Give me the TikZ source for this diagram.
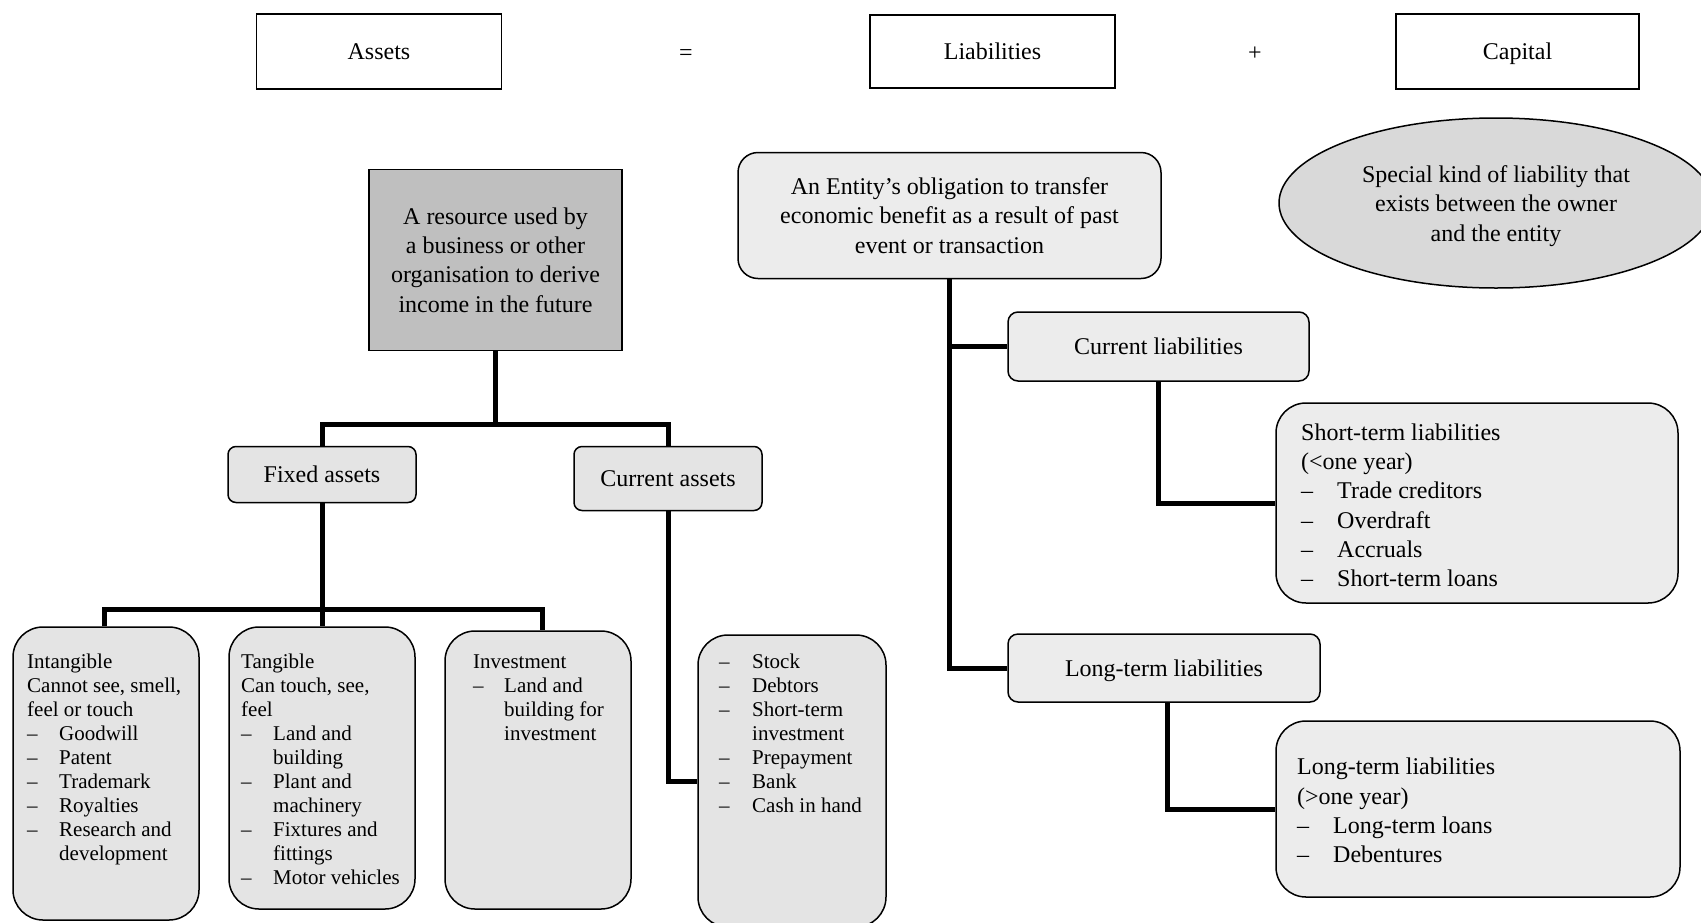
\documentclass[tikz,border=0pt]{standalone}
\usepackage{fontspec}
\setmainfont{Liberation Serif}
\usetikzlibrary{shapes.geometric}
\definecolor{resfill}{RGB}{191,191,191}
\definecolor{catfill}{RGB}{228,228,228}
\definecolor{lightfill}{RGB}{236,236,236}
\definecolor{ellfill}{RGB}{217,217,217}
\newcommand{\dashitem}[1]{\makebox[#1pt][l]{--}}
\newcommand{\contind}[1]{\hspace*{#1pt}}
\begin{document}
\begin{tikzpicture}[x=1pt,y=-1pt,
  bigfont/.style={font=\fontsize{24}{29.3}\selectfont},
  oneline/.style={text height=20pt, text depth=4pt},
  topbox/.style={draw, line width=1.2pt, bigfont, oneline, inner sep=0pt},
  resbox/.style={draw, line width=1.5pt, fill=resfill, bigfont, align=center, inner sep=0pt},
  catbox/.style={draw, line width=1.5pt, fill=catfill, rounded corners=8pt, bigfont, oneline, inner sep=0pt},
  defbox/.style={draw, line width=1.5pt, fill=lightfill, rounded corners=10pt, bigfont, inner sep=0pt, align=center},
  listbox/.style={draw, line width=1.5pt, fill=catfill, rounded corners=30pt, inner sep=0pt},
  bigbox/.style={draw, line width=1.5pt, fill=lightfill, rounded corners=30pt, inner sep=0pt},
  ellbox/.style={draw, line width=1.5pt, fill=ellfill, ellipse, inner sep=0pt},
  smalltext/.style={anchor=north west, inner sep=0pt, align=left, font=\fontsize{21}{24}\selectfont},
  bigtext/.style={anchor=north west, inner sep=0pt, align=left, font=\fontsize{24}{29.3}\selectfont},
  linkline/.style={line width=5pt}
]
\useasboundingbox (0,0) rectangle (1701,922);
\fill[white] (0,0) rectangle (1701,922);

% top equation
\node[topbox, minimum width=245, minimum height=74] (assets) at (379,51.5) {Assets};
\node[topbox, minimum width=245, minimum height=72] (liab) at (992.5,51.5) {Liabilities};
\node[topbox, minimum width=243, minimum height=74] (capital) at (1517.5,51.5) {Capital};
\node[bigfont, oneline, inner sep=0pt] (eq) at (686,52) {=};
\node[bigfont, oneline, inner sep=0pt] (plus) at (1255,52) {+};
\foreach \b in {assets,liab,capital}{
  \draw[line width=2.4pt] (\b.north west) -- (\b.north east);
  \draw[line width=2.4pt] (\b.south west) -- (\b.south east);
}

% assets side
\node[resbox, minimum width=253, minimum height=181] (res) at (495.5,260)
  {A resource used by\\a business or other\\organisation to derive\\income in the future};
\node[catbox, minimum width=188, minimum height=56] (fixed) at (322,474.5) {Fixed assets};
\node[catbox, minimum width=188, minimum height=64] (cur) at (668,478.5) {Current assets};

\node[listbox, minimum width=186, minimum height=293] (intang) at (106,773.5) {};
\node[listbox, minimum width=186, minimum height=282] (tang) at (322,768) {};
\node[listbox, minimum width=186, minimum height=278] (invest) at (538,770) {};
\node[listbox, minimum width=188, minimum height=292] (calist) at (792,781) {};

\node[smalltext] (intangtxt) at (27,651.2) {\strut Intangible\\Cannot see, smell,\\feel or touch\\
  \dashitem{32}Goodwill\\\dashitem{32}Patent\\\dashitem{32}Trademark\\\dashitem{32}Royalties\\
  \dashitem{32}Research and\\\contind{32}development};
\node[smalltext] (tangtxt) at (241,651.2) {\strut Tangible\\Can touch, see,\\feel\\
  \dashitem{32}Land and\\\contind{32}building\\\dashitem{32}Plant and\\\contind{32}machinery\\
  \dashitem{32}Fixtures and\\\contind{32}fittings\\\dashitem{32}Motor vehicles};
\node[smalltext] (investtxt) at (473,651.2) {\strut Investment\\
  \dashitem{31}Land and\\\contind{31}building for\\\contind{31}investment};
\node[smalltext] (calisttxt) at (719,651.2) {\strut\dashitem{33}Stock\\\dashitem{33}Debtors\\
  \dashitem{33}Short-term\\\contind{33}investment\\\dashitem{33}Prepayment\\\dashitem{33}Bank\\
  \dashitem{33}Cash in hand};

% liabilities side
\node[defbox, rounded corners=20pt, minimum width=423, minimum height=126] (ent) at (949.5,215.5)
  {An Entity’s obligation to transfer\\economic benefit as a result of past\\event or transaction};
\node[defbox, oneline, minimum width=301, minimum height=69] (cl) at (1158.5,346.5) {Current liabilities};
\node[defbox, oneline, minimum width=312, minimum height=68] (ltl) at (1164,668) {Long-term liabilities};
\node[bigbox, minimum width=402, minimum height=200] (st) at (1477,503) {};
\node[bigbox, minimum width=404, minimum height=176] (ltb) at (1478,809) {};
\node[bigtext] (sttxt) at (1301,419.5) {\strut Short-term liabilities\\(<one year)\\
  \dashitem{36}Trade creditors\\\dashitem{36}Overdraft\\\dashitem{36}Accruals\\\dashitem{36}Short-term loans};
\node[bigtext] (ltbtxt) at (1297,754) {\strut Long-term liabilities\\(>one year)\\
  \dashitem{36}Long-term loans\\\dashitem{36}Debentures};

% capital
\node[ellbox, minimum width=434, minimum height=170] (cap) at (1496,203) {};
\node[bigfont, align=center, inner sep=0pt] (captxt) at (1496,206)
  {Special kind of liability that\\exists between the owner\\and the entity};

% connectors
\coordinate (j1) at (495.5,424);
\coordinate (j2) at (322,609);
\coordinate (cint) at ([xshift=-2pt]intang.north);
\coordinate (cinv) at ([xshift=4pt]invest.north);
\coordinate (cltl) at ([xshift=3pt]ltl.south);
\draw[linkline] (res.south) -- (j1);
\draw[linkline] (fixed.north) |- (j1) -| (cur.north);
\draw[linkline] (fixed.south) -- (tang.north);
\draw[linkline] (cint) |- (j2) -| (cinv);
\draw[linkline] (cur.south) |- (calist.west);
\draw[linkline] (ent.south) |- (cl.west);
\draw[linkline] (ent.south) |- (ltl.west);
\draw[linkline] (cl.south) |- (st.west);
\draw[linkline] (cltl) |- (ltb.west);
\end{tikzpicture}
\end{document}
